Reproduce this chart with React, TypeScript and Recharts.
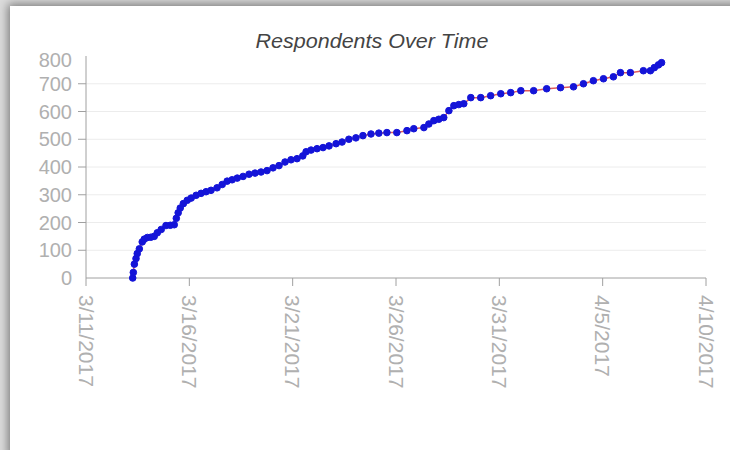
import React from 'react';
import { LineChart, Line, XAxis, YAxis, CartesianGrid } from 'recharts';

// days since 3/11/2017
const dayOffsets = [
  2.26, 2.29, 2.34, 2.42, 2.48, 2.58, 2.72, 2.82, 2.97, 3.14, 3.3, 3.45, 3.64, 3.87,
  4.08, 4.27, 4.37, 4.46, 4.56, 4.71, 4.9, 5.09, 5.33, 5.57, 5.81, 6.05, 6.34, 6.59,
  6.83, 7.07, 7.32, 7.6, 7.89, 8.18, 8.47, 8.76, 9.05, 9.34, 9.63, 9.92, 10.21, 10.49,
  10.65, 10.89, 11.18, 11.47, 11.76, 12.1, 12.39, 12.72, 13.06, 13.4, 13.79, 14.17,
  14.56, 15.04, 15.53, 15.86, 16.35, 16.59, 16.83, 17.07, 17.31, 17.56, 17.8, 18.04,
  18.28, 18.62, 19.1, 19.58, 20.07, 20.55, 21.04, 21.66, 22.29, 22.96, 23.59, 24.07,
  24.55, 25.04, 25.52, 25.86, 26.34, 26.97, 27.31, 27.5, 27.7, 27.85,
];

const respondents = [
  0, 20, 50, 70, 88, 105, 130, 140, 146, 147, 150, 163, 175, 189,
  190, 192, 215, 235, 252, 268, 280, 288, 298, 305, 311, 316, 325, 337,
  349, 354, 360, 366, 374, 378, 382, 387, 397, 405, 418, 426, 430, 440,
  455, 461, 466, 470, 476, 484, 490, 500, 505, 513, 519, 522,
  524, 524, 531, 538, 542, 555, 567, 572, 578, 603, 621, 625,
  628, 650, 650, 657, 664, 668, 675, 675, 682, 686, 689, 700,
  711, 718, 725, 740, 740, 747, 747, 758, 768, 776,
];

const tickDays = [0, 5, 10, 15, 20, 25, 30];
const tickLabels = ['3/11/2017', '3/16/2017', '3/21/2017', '3/26/2017', '3/31/2017', '4/5/2017', '4/10/2017'];
const yTicks = [0, 100, 200, 300, 400, 500, 600, 700, 800];
const gridValues = [100, 200, 300, 400, 500, 600, 700];

const data = dayOffsets.map((d, i) => ({ d, count: respondents[i] }));

const FONT = '"Liberation Sans", Arial, sans-serif';
const AXIS = '#a0a0a0';
const LABEL = '#b0b0b0';

const XTick = (props: any) => {
  const { x, y, payload } = props;
  const i = tickDays.indexOf(payload.value);
  return (
    <g transform={`translate(${x},${y}) rotate(90)`}>
      <text x={0} y={0} dy="0.35em" textAnchor="start" fill={LABEL} fontSize={21} fontFamily={FONT}>
        {i >= 0 ? tickLabels[i] : payload.value}
      </text>
    </g>
  );
};

const YTick = (props: any) => {
  const { x, y, payload } = props;
  const v = payload.value;
  const marked = v > 0 && v < 800;
  return (
    <g>
      {marked && <line x1={x + 6} x2={x + 14} y1={y} y2={y} stroke={AXIS} />}
      <text x={x} y={v === 800 ? y + 4 : y} dy="0.35em" textAnchor="end" fill={LABEL} fontSize={20} fontFamily={FONT}>
        {v}
      </text>
    </g>
  );
};

const App = () => {
  return (
    <div style={{ position: 'absolute', left: 0, top: 0, width: 730, height: 450, overflow: 'hidden', background: '#dcdcdc' }}>
      <div
        style={{
          position: 'absolute',
          left: 10,
          top: 6,
          width: 730,
          height: 450,
          background: '#fff',
          boxShadow: '0 0 9px 2px rgba(0,0,0,0.45)',
        }}
      >
        <div
          style={{
            position: 'absolute',
            left: 1.5,
            top: 25,
            width: 720,
            textAlign: 'center',
            fontFamily: FONT,
            fontStyle: 'italic',
            fontSize: 20,
            lineHeight: '20px',
            color: '#444',
            transform: 'scaleX(1.075)',
            zIndex: 1,
          }}
        >
          Respondents Over Time
        </div>
        <LineChart width={720} height={444} data={data} margin={{ top: 50, right: 24, bottom: 42, left: 16 }}>
          <CartesianGrid horizontal vertical={false} horizontalValues={gridValues} stroke="#ececec" />
          <XAxis
            type="number"
            dataKey="d"
            domain={[0, 30]}
            ticks={tickDays}
            height={130}
            axisLine={{ stroke: AXIS }}
            tickLine={{ stroke: AXIS }}
            tickSize={8}
            tickMargin={9}
            tick={<XTick />}
            interval={0}
          />
          <YAxis
            type="number"
            domain={[0, 800]}
            ticks={yTicks}
            width={60}
            axisLine={{ stroke: AXIS }}
            tickLine={false}
            tickSize={8}
            tickMargin={6}
            tick={<YTick />}
            interval={0}
          />
          <Line
            type="linear"
            dataKey="count"
            stroke="#e05a5a"
            strokeWidth={1.5}
            dot={{ r: 3.3, fill: '#1414d8', stroke: '#1414d8', strokeWidth: 1 }}
            isAnimationActive={false}
          />
        </LineChart>
      </div>
    </div>
  );
};

export default App;
